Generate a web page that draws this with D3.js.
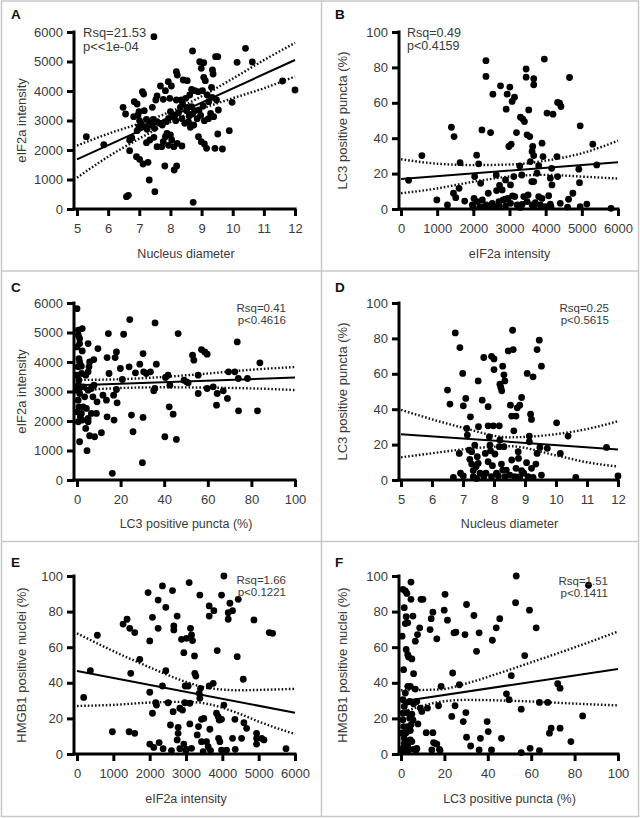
<!DOCTYPE html>
<html><head><meta charset="utf-8">
<script src="https://cdn.jsdelivr.net/npm/d3@7"></script>
<style>
html,body{margin:0;padding:0;background:#fff;}
svg{display:block;font-family:"Liberation Sans",Arial,sans-serif;}
</style></head>
<body><svg id="chart" width="640" height="818"></svg>
<script>
// ---------- DATA ----------
const ticksDiameter = [5,6,7,8,9,10,11,12];
const ticksIntensity = [0,1000,2000,3000,4000,5000,6000];
const ticksPercent = [0,20,40,60,80,100];

// A: Nucleus diameter vs eIF2a intensity
const pointsA = [[7.47,5840],[8.71,5356],[10.41,5447],[9.45,5164],[9.52,5164],[10.14,4972],[10.63,4983],[8.94,4995],[9.07,4961],[8.99,4769],[8.19,4656],[8.22,4543],[9.35,4712],[9.37,4577],[9.07,4464],[9.12,4351],[8.41,4373],[8.54,4351],[7.93,4317],[8.03,4170],[7.68,4170],[7.84,4012],[11.6,4339],[12.0,4034],[8.68,4057],[8.78,4012],[8.89,3978],[9.03,4012],[8.62,3865],[8.49,3752],[8.35,3695],[8.19,3695],[7.98,3752],[7.77,3718],[7.53,3695],[7.57,3831],[7.10,3978],[7.14,3899],[6.84,3639],[6.93,3560],[6.99,3300],[7.42,3447],[8.39,3560],[8.54,3447],[8.68,3469],[8.78,3334],[8.92,3356],[9.05,3492],[9.23,3639],[9.34,3786],[9.48,3695],[9.18,3865],[9.32,4125],[9.98,3616],[9.54,3356],[6.48,3447],[6.56,3221],[6.82,3130],[7.16,3334],[6.96,3187],[7.23,3040],[7.32,2961],[7.44,3040],[7.57,2961],[7.39,2848],[7.49,2735],[7.66,2904],[7.74,2848],[7.01,2995],[7.07,2882],[7.18,2791],[7.25,2701],[6.93,2656],[6.99,2791],[7.87,2961],[7.94,3074],[8.09,3130],[8.00,3300],[8.15,3187],[8.26,3266],[8.32,3447],[8.52,3334],[8.60,3153],[8.71,3221],[8.37,3062],[8.17,2995],[8.58,2949],[8.75,2848],[8.64,2769],[8.46,2904],[8.86,3062],[8.97,3175],[9.09,2995],[9.22,3062],[9.39,3130],[9.29,3243],[5.30,2452],[5.86,2181],[6.69,2339],[6.76,2407],[7.34,2339],[7.47,2430],[7.57,2113],[7.72,2113],[7.77,2283],[7.84,2452],[7.89,2565],[8.00,2509],[8.04,2339],[8.11,2113],[8.22,2226],[8.37,2136],[7.94,2158],[8.90,2452],[8.99,2283],[9.09,2204],[9.16,2057],[9.43,2057],[9.67,2034],[9.52,2543],[9.89,2656],[6.91,1774],[7.28,1582],[7.23,2249],[7.01,1684],[7.12,1526],[7.82,1458],[8.12,1322],[8.20,1458],[6.69,1978],[7.32,983],[7.50,588],[6.59,418],[6.65,463],[8.73,226]];
const fitA = [[5,1680],[12,5050]];
const ciA = [[5,1060,2150],[6,1772,2550],[7,2386,2898],[8.2,3050,3390],[9,3394,3818],[10,3754,4420],[11,4092,5046],[12,4490,5630]];

// B: eIF2a intensity vs LC3 positive puncta
const pointsB = [[211,16.2],[578,30.2],[991,5.1],[1284,2.3],[1394,46.2],[1468,40.9],[1450,8.9],[1514,6.4],[1606,11.7],[1633,26.2],[1761,4.5],[2092,30.4],[2147,25.5],[2238,44.7],[2349,83.8],[2349,74.9],[2477,43.2],[2541,64.9],[2752,69.6],[2908,56.4],[2936,64.9],[3009,68.9],[3073,60.8],[3138,63.2],[2982,35.3],[3046,36.6],[3193,43.2],[3303,51.9],[3367,50.8],[3413,49.4],[3486,41.9],[3459,79.1],[3459,74.5],[3532,56.0],[3560,40.9],[3670,73.6],[3670,70.2],[3624,32.5],[3670,30.2],[3642,35.3],[3963,84.7],[3899,37.2],[3926,29.6],[4037,54.2],[4202,53.6],[4330,60.2],[4385,59.8],[4422,57.9],[4660,74.3],[4954,47.0],[5303,36.6],[5413,24.9],[4917,22.5],[4936,14.9],[4752,8.9],[4633,5.5],[4606,1.1],[4312,29.6],[4330,18.3],[4165,23.0],[4128,17.4],[4174,13.6],[4083,7.5],[3899,6.0],[3807,7.0],[3807,24.5],[3761,20.2],[3578,26.8],[3615,15.5],[3670,15.5],[3339,19.2],[3284,24.3],[3119,18.3],[3028,13.6],[3083,7.4],[3147,7.0],[2954,6.0],[2890,5.5],[2798,10.8],[2725,13.4],[2633,19.2],[2642,10.4],[2890,16.4],[2826,5.1],[2706,4.2],[2523,3.2],[2358,2.3],[2413,8.9],[2202,14.5],[2037,18.3],[2018,6.0],[2110,4.2],[2183,1.3],[2248,5.1],[2294,1.3],[2431,1.3],[2569,1.3],[2706,1.7],[2890,1.7],[3028,3.2],[3211,2.3],[3349,2.6],[3486,4.2],[3624,2.3],[3716,3.6],[3853,2.3],[3991,1.3],[4147,1.3],[4404,3.2],[4954,1.3],[5138,2.8],[5807,0.4],[1972,2.3],[2000,0.9],[3394,7.0],[3514,7.9],[4128,2.8],[3679,1.3],[3303,0.9]];
const fitB = [[0,17.0],[6000,26.4]];
const ciB = [[0,8.9,28.1],[1000,11.6,25.6],[2000,15.4,24.8],[3200,18.7,25.3],[4000,19.3,27.3],[5000,18.3,31.5],[6000,17.2,38.6]];

// C: LC3 positive puncta vs eIF2a intensity
const pointsC = [[0,5809],[0.6,5076],[2.4,5132],[0.6,4907],[1.2,4625],[0,4512],[2.4,4377],[5.1,4625],[1.2,1297],[4.6,993],[4.0,1748],[5.8,1500],[8.1,1466],[11.2,1602],[8.9,2256],[5.1,2087],[6.6,2256],[9.2,2651],[7.3,2820],[5.5,3835],[5.8,4004],[7.7,4083],[9.6,4456],[11.9,2876],[13.5,2707],[14.4,4963],[13.8,4151],[14.7,3610],[13.8,2143],[16.2,226],[16.8,2876],[17.0,2030],[17.5,4151],[18.1,4343],[18.1,3068],[18.4,2617],[19.9,3779],[20.8,3407],[21.4,4941],[24.2,5437],[23.9,3835],[25.0,2200],[25.7,1636],[26.8,3632],[28.8,3925],[30.0,587],[30.3,2121],[30.3,4286],[30.6,3666],[31.8,3610],[33.7,3666],[35.2,3023],[35.7,3102],[35.8,5324],[36.4,3925],[40.3,1466],[40.6,3474],[41.8,3553],[42.3,2482],[42.6,3215],[44.1,2233],[45.6,1376],[46.4,4963],[49.1,3384],[50.2,3328],[51.0,3294],[53.0,4230],[53.6,4061],[55.6,3553],[55.6,2933],[57.1,4422],[58.6,4343],[59.7,4264],[59.7,3102],[62.5,3158],[64.0,2538],[64.3,2933],[67.1,3023],[69.0,2764],[69.5,3666],[72.4,3666],[73.5,4681],[74.1,2346],[74.0,3440],[78.2,3440],[82.8,2346],[83.9,3971],[5.1,3666],[4.0,3553],[3.1,3158],[5.1,3046],[6.6,3102],[7.8,3215],[3.5,2820],[2.8,2482],[4.3,2425],[2.4,2030],[5.1,1974],[2.0,2256],[1.2,4794],[0.9,4117],[1.2,4004],[0.5,3835],[2.0,3858],[0,3553],[0.9,3384],[0.6,3215],[0,3046],[1.2,2933],[0.5,2707],[0.9,2482],[0,2312],[1.5,2143],[0.6,1974],[2.0,3158],[2.1,3610]];
const fitC = [[0,3215],[100,3474]];
const ciC = [[0,3039,3391],[20,3117,3417],[40,3143,3495],[60,3131,3609],[80,3106,3738],[100,3050,3830]];

// D: Nucleus diameter vs LC3 positive puncta
const pointsD = [[6.50,50.8],[6.58,42.9],[6.75,83.1],[6.90,74.8],[6.99,60.2],[7.01,41.9],[7.09,46.1],[7.24,35.7],[7.12,29.1],[7.14,25.4],[6.88,15.0],[6.92,3.8],[6.69,1.5],[7.01,2.3],[7.20,16.9],[7.22,11.7],[7.28,9.0],[7.33,5.3],[7.42,7.5],[7.49,56.0],[7.50,30.1],[7.46,13.2],[7.49,9.4],[7.55,3.8],[7.62,45.1],[7.67,69.2],[7.72,15.0],[7.74,3.8],[7.81,41.4],[7.81,30.6],[7.85,24.4],[7.87,19.7],[7.89,16.5],[7.92,69.9],[7.95,8.1],[7.98,30.6],[8.00,68.4],[8.00,62.4],[8.03,14.7],[8.08,3.8],[8.17,30.6],[8.19,54.1],[8.22,52.3],[8.25,50.4],[8.28,64.3],[8.32,59.4],[8.35,56.0],[8.32,18.8],[8.24,9.0],[8.28,5.6],[8.46,72.9],[8.53,42.3],[8.57,36.1],[8.62,73.7],[8.60,84.6],[8.64,27.8],[8.71,36.1],[8.75,40.8],[8.78,16.0],[8.79,12.2],[8.83,42.3],[8.89,46.6],[8.96,3.8],[9.07,60.2],[9.14,21.6],[9.14,24.8],[9.18,37.2],[9.21,34.2],[9.26,58.3],[9.39,73.7],[9.46,79.0],[9.53,64.3],[9.39,15.0],[9.48,18.4],[9.72,17.9],[10.02,32.3],[10.14,15.0],[10.39,24.8],[10.64,1.5],[11.63,18.4],[12.0,2.3],[9.05,9.8],[9.21,6.6],[9.35,9.0],[9.53,2.8],[7.81,10.3],[7.67,1.9],[8.35,1.9],[8.51,2.8],[8.67,1.9],[8.83,1.9],[8.89,5.3],[8.71,6.6],[7.33,1.9],[7.44,0.9],[7.92,1.9],[8.14,2.3],[9.10,1.9],[9.26,1.5],[7.28,16.0],[7.38,19.7],[8.17,18.8],[8.19,22.6],[8.40,5.6],[8.57,11.3]];
const fitD = [[5,25.9],[12,17.3]];
const ciD = [[5,12.8,39.6],[6,15.1,34.3],[7,17.3,29.5],[8.5,19.1,24.1],[10,13.9,25.9],[11,10.0,28.8],[12,7.6,33.2]];

// E: eIF2a intensity vs HMGB1 positive nuclei
const pointsE = [[184,31.8],[368,46.8],[560,66.7],[974,12.5],[1268,73.0],[1378,75.7],[1452,70.6],[1433,12.5],[1479,45.3],[1589,68.2],[1589,11.6],[1727,53.2],[1957,90.7],[2003,63.5],[2003,34.7],[2003,5.6],[2077,76.8],[2077,22.9],[2113,3.7],[2168,28.8],[2187,27.5],[2233,86.5],[2233,70.6],[2260,6.4],[2352,94.4],[2352,38.2],[2370,3.0],[2444,82.4],[2444,46.8],[2508,28.8],[2572,16.3],[2600,1.9],[2628,91.8],[2646,23.8],[2665,69.7],[2665,71.9],[2757,77.5],[2784,15.0],[2757,7.9],[2784,11.6],[2830,25.7],[2876,64.4],[2904,24.7],[2940,5.6],[2940,56.9],[2977,38.2],[2967,28.8],[2995,1.9],[3014,65.0],[3060,38.2],[3087,96.3],[3106,28.5],[3106,16.9],[3124,70.6],[3152,66.9],[3152,3.2],[3179,63.7],[3234,55.1],[3243,45.3],[3271,43.8],[3308,10.7],[3344,15.4],[3363,34.1],[3381,89.3],[3381,31.3],[3400,36.9],[3427,6.9],[3473,1.3],[3427,19.5],[3491,20.0],[3565,6.9],[3611,4.1],[3638,83.2],[3638,77.5],[3638,38.2],[3657,13.9],[3675,1.9],[3767,80.5],[3859,58.1],[3840,22.9],[3886,21.0],[3896,8.8],[3932,6.9],[3978,2.2],[3978,89.3],[4043,100.0],[4043,27.5],[3978,19.5],[3914,19.1],[4116,2.2],[4162,79.4],[4162,75.7],[4208,84.7],[4281,80.5],[4281,8.8],[4346,19.5],[4355,2.6],[4410,54.7],[4438,86.9],[4530,8.8],[4576,42.0],[4594,17.6],[4668,14.4],[4870,75.3],[4943,11.6],[4943,8.8],[4943,5.6],[5145,7.9],[5081,8.8],[5292,68.2],[5384,67.8],[5752,3.0],[3749,39.7],[3014,2.6],[2830,3.0]];
const fitE = [[0,46.6],[6000,23.2]];
const ciE = [[0,27.0,67.8],[1000,27.6,57.8],[2000,28.9,48.7],[3000,29.3,40.5],[3600,28.1,37.1],[4500,22.4,35.8],[5000,18.2,36.0],[6000,11.2,36.6]];

// F: LC3 positive puncta vs HMGB1 positive nuclei
const pointsF = [[4.6,96.6],[0.9,92.5],[2.0,91.6],[2.7,90.2],[1.5,82.2],[2.4,77.1],[5.5,77.5],[3.1,73.7],[2.0,73.3],[0.5,66.2],[4.6,86.9],[9.2,86.9],[10.1,86.9],[8.6,70.9],[7.6,67.1],[6.6,63.4],[2.4,58.7],[3.1,55.8],[3.5,54.5],[5.0,53.4],[1.2,47.4],[5.8,45.1],[3.1,38.0],[4.3,38.0],[6.6,36.5],[2.0,34.2],[7.3,29.5],[4.0,29.5],[5.8,28.2],[2.7,23.3],[5.0,22.4],[7.8,16.9],[4.3,13.2],[0.9,19.2],[1.2,15.4],[0.5,11.7],[1.5,8.8],[2.4,6.0],[3.1,4.1],[0.9,3.2],[3.5,2.3],[5.8,2.6],[7.0,2.3],[7.3,3.2],[5.0,7.0],[2.0,2.3],[0.5,1.3],[2.4,12.0],[4.3,7.9],[1.5,26.7],[0.9,22.9],[8.9,25.8],[9.6,23.9],[11.6,12.0],[12.2,25.8],[13.4,69.9],[13.9,76.0],[14.7,79.7],[14.7,12.0],[15.0,6.4],[14.2,2.3],[15.7,6.0],[16.5,64.7],[16.5,5.6],[17.3,27.1],[17.7,2.6],[18.0,1.9],[18.5,38.0],[19.9,80.8],[20.3,89.7],[21.4,75.2],[23.4,21.1],[23.8,45.5],[24.4,68.1],[25.3,68.4],[24.9,27.1],[26.9,38.9],[28.7,18.2],[29.5,67.1],[29.9,23.3],[30.2,9.4],[30.2,84.0],[32.1,4.5],[33.6,77.8],[34.8,57.7],[36.0,68.1],[36.0,2.3],[36.6,8.8],[39.7,18.2],[40.2,12.6],[41.7,2.3],[42.1,63.9],[43.9,70.9],[45.5,76.0],[46.3,8.8],[48.6,33.8],[49.8,30.5],[50.8,44.0],[53.1,100],[52.8,85.0],[55.4,25.2],[55.4,0.8],[57.0,55.3],[59.2,80.8],[59.5,3.2],[62.3,70.9],[63.8,1.9],[63.8,29.0],[67.6,29.0],[68.4,11.7],[69.2,14.5],[72.2,39.5],[73.3,37.0],[73.3,14.5],[78.3,7.0],[83.7,21.4],[86.4,94.8],[0.9,30.5],[2.4,29.0],[3.1,15.4],[4.6,16.4],[4.0,20.1],[5.5,19.2],[1.5,6.0]];
const fitF = [[0,29.5],[100,47.8]];
const ciF = [[0,23.2,35.8],[18,29.3,36.3],[30,30.4,39.6],[45,30.1,45.3],[60,29.5,51.5],[80,28.3,59.9],[100,27.3,68.8]];

// ---------- PANEL SETUP ----------
const panels = [
  {id:"A", col:0,row:0, pts:pointsA, fit:fitA, ci:ciA, xd:[5,12], xt:ticksDiameter, yd:[0,6000], yt:ticksIntensity,
   xTitle:"Nucleus diameter", yTitle:"eIF2a intensity", stats:["Rsq=21.53","p<<1e-04"], statAnchor:"start", statX:83, statY:[37,51], statFs:13},
  {id:"B", col:1,row:0, pts:pointsB, fit:fitB, ci:ciB, xd:[0,6000], xt:ticksIntensity, yd:[0,100], yt:ticksPercent,
   xTitle:"eIF2a intensity", yTitle:"LC3 positive puncta (%)", stats:["Rsq=0.49","p<0.4159"], statAnchor:"start", statX:407, statY:[37,50], statFs:12.5},
  {id:"C", col:0,row:1, pts:pointsC, fit:fitC, ci:ciC, xd:[0,100], xt:ticksPercent, yd:[0,6000], yt:ticksIntensity,
   xTitle:"LC3 positive puncta (%)", yTitle:"eIF2a intensity", stats:["Rsq=0.41","p<0.4616"], statAnchor:"end", statX:286, statY:[312,324], statFs:11.5},
  {id:"D", col:1,row:1, pts:pointsD, fit:fitD, ci:ciD, xd:[5,12], xt:ticksDiameter, yd:[0,100], yt:ticksPercent,
   xTitle:"Nucleus diameter", yTitle:"LC3 positive puncta (%)", stats:["Rsq=0.25","p<0.5615"], statAnchor:"end", statX:609, statY:[312,324], statFs:11.5},
  {id:"E", col:0,row:2, pts:pointsE, fit:fitE, ci:ciE, xd:[0,6000], xt:ticksIntensity, yd:[0,100], yt:ticksPercent,
   xTitle:"eIF2a intensity", yTitle:"HMGB1 positive nuclei (%)", stats:["Rsq=1.66","p<0.1221"], statAnchor:"end", statX:286, statY:[584,596], statFs:11.5},
  {id:"F", col:1,row:2, pts:pointsF, fit:fitF, ci:ciF, xd:[0,100], xt:ticksPercent, yd:[0,100], yt:ticksPercent,
   xTitle:"LC3 positive puncta (%)", yTitle:"HMGB1 positive nuclei (%)", stats:["Rsq=1.51","p<0.1411"], statAnchor:"end", statX:608, statY:[585,597], statFs:11.5}
];

const svg = d3.select("#chart");
svg.append("rect").attr("x",0).attr("y",0).attr("width",640).attr("height",818).attr("fill","#fff");

// frame and separators
const frame = svg.append("g").attr("stroke","#c8c8c8").attr("fill","none").attr("stroke-width",1.5);
frame.append("rect").attr("x",1.5).attr("y",1).attr("width",637).attr("height",815.5);
frame.append("line").attr("x1",1.5).attr("x2",638.5).attr("y1",271).attr("y2",271);
frame.append("line").attr("x1",1.5).attr("x2",638.5).attr("y1",541.5).attr("y2",541.5);
frame.append("line").attr("x1",321.5).attr("x2",321.5).attr("y1",1).attr("y2",816.5);

const xRanges = [[77,295],[401,618]];
const yAxisX = [74,399];
const yRanges = [[209,32],[480,303],[754,576]];
const xTitleY = [258,528,803];
const letterY = [19,292,567];
const letterX = [11,335];
const yTitleX = [26,347];
const textCol = "#3a3a3a";

panels.forEach(p => {
  const x = d3.scaleLinear().domain(p.xd).range(xRanges[p.col]);
  const y = d3.scaleLinear().domain(p.yd).range(yRanges[p.row]);
  const g = svg.append("g");
  const ax0 = yAxisX[p.col];
  const xr = xRanges[p.col], yr = yRanges[p.row];

  // CI dotted curves
  const ciLine = acc => d3.line().x(d=>x(d[0])).y(d=>y(acc(d))).curve(d3.curveMonotoneX);
  [d=>d[1], d=>d[2]].forEach(acc => {
    g.append("path").datum(p.ci).attr("d", ciLine(acc))
      .attr("fill","none").attr("stroke","#111").attr("stroke-width",2.4)
      .attr("stroke-dasharray","1.6,2");
  });
  // fit line
  g.append("path").datum(p.fit).attr("d", d3.line().x(d=>x(d[0])).y(d=>y(d[1])))
    .attr("fill","none").attr("stroke","#000").attr("stroke-width",2);

  // points
  g.append("g").selectAll("circle").data(p.pts).join("circle")
    .attr("cx", d=>x(d[0])).attr("cy", d=>y(d[1])).attr("r",3.4).attr("fill","#000");

  // axes
  const xAxis = d3.axisBottom(x).tickValues(p.xt).tickSize(7).tickPadding(8).tickFormat(d3.format("d"));
  const gx = g.append("g").attr("transform",`translate(0,${yr[0]})`).call(xAxis);
  gx.select(".domain").remove();
  gx.append("line").attr("x1",ax0-1.5).attr("x2",xr[1]+1.5).attr("y1",0).attr("y2",0)
    .attr("stroke","#000").attr("stroke-width",3);
  gx.selectAll(".tick line").attr("stroke","#000").attr("stroke-width",3);
  gx.selectAll(".tick text").attr("fill",textCol).attr("font-size", 13);

  const yAxis = d3.axisLeft(y).tickValues(p.yt).tickSize(7).tickPadding(4).tickFormat(d3.format("d"));
  const gy = g.append("g").attr("transform",`translate(${ax0},0)`).call(yAxis);
  gy.select(".domain").remove();
  gy.append("line").attr("x1",0).attr("x2",0).attr("y1",yr[1]-1.5).attr("y2",yr[0]+1.5)
    .attr("stroke","#000").attr("stroke-width",3);
  gy.selectAll(".tick line").attr("stroke","#000").attr("stroke-width",3);
  gy.selectAll(".tick text").attr("fill",textCol).attr("font-size", 13);

  // titles
  g.append("text").attr("x",(xr[0]+xr[1])/2).attr("y",xTitleY[p.row]).attr("text-anchor","middle")
    .attr("font-size",12.5).attr("fill",textCol).text(p.xTitle);
  const ym = (yr[0]+yr[1])/2;
  g.append("text").attr("transform",`translate(${yTitleX[p.col]},${ym}) rotate(-90)`).attr("text-anchor","middle")
    .attr("font-size",13).attr("fill",textCol).text(p.yTitle);

  // stats
  p.stats.forEach((s,i) => {
    g.append("text").attr("x",p.statX).attr("y",p.statY[i]).attr("text-anchor",p.statAnchor)
      .attr("font-size",p.statFs).attr("fill",textCol).text(s);
  });

  // panel letter
  g.append("text").attr("x",letterX[p.col]).attr("y",letterY[p.row]).attr("font-size",13.5)
    .attr("font-weight","bold").attr("fill","#111").text(p.id);
});
</script></body></html>
